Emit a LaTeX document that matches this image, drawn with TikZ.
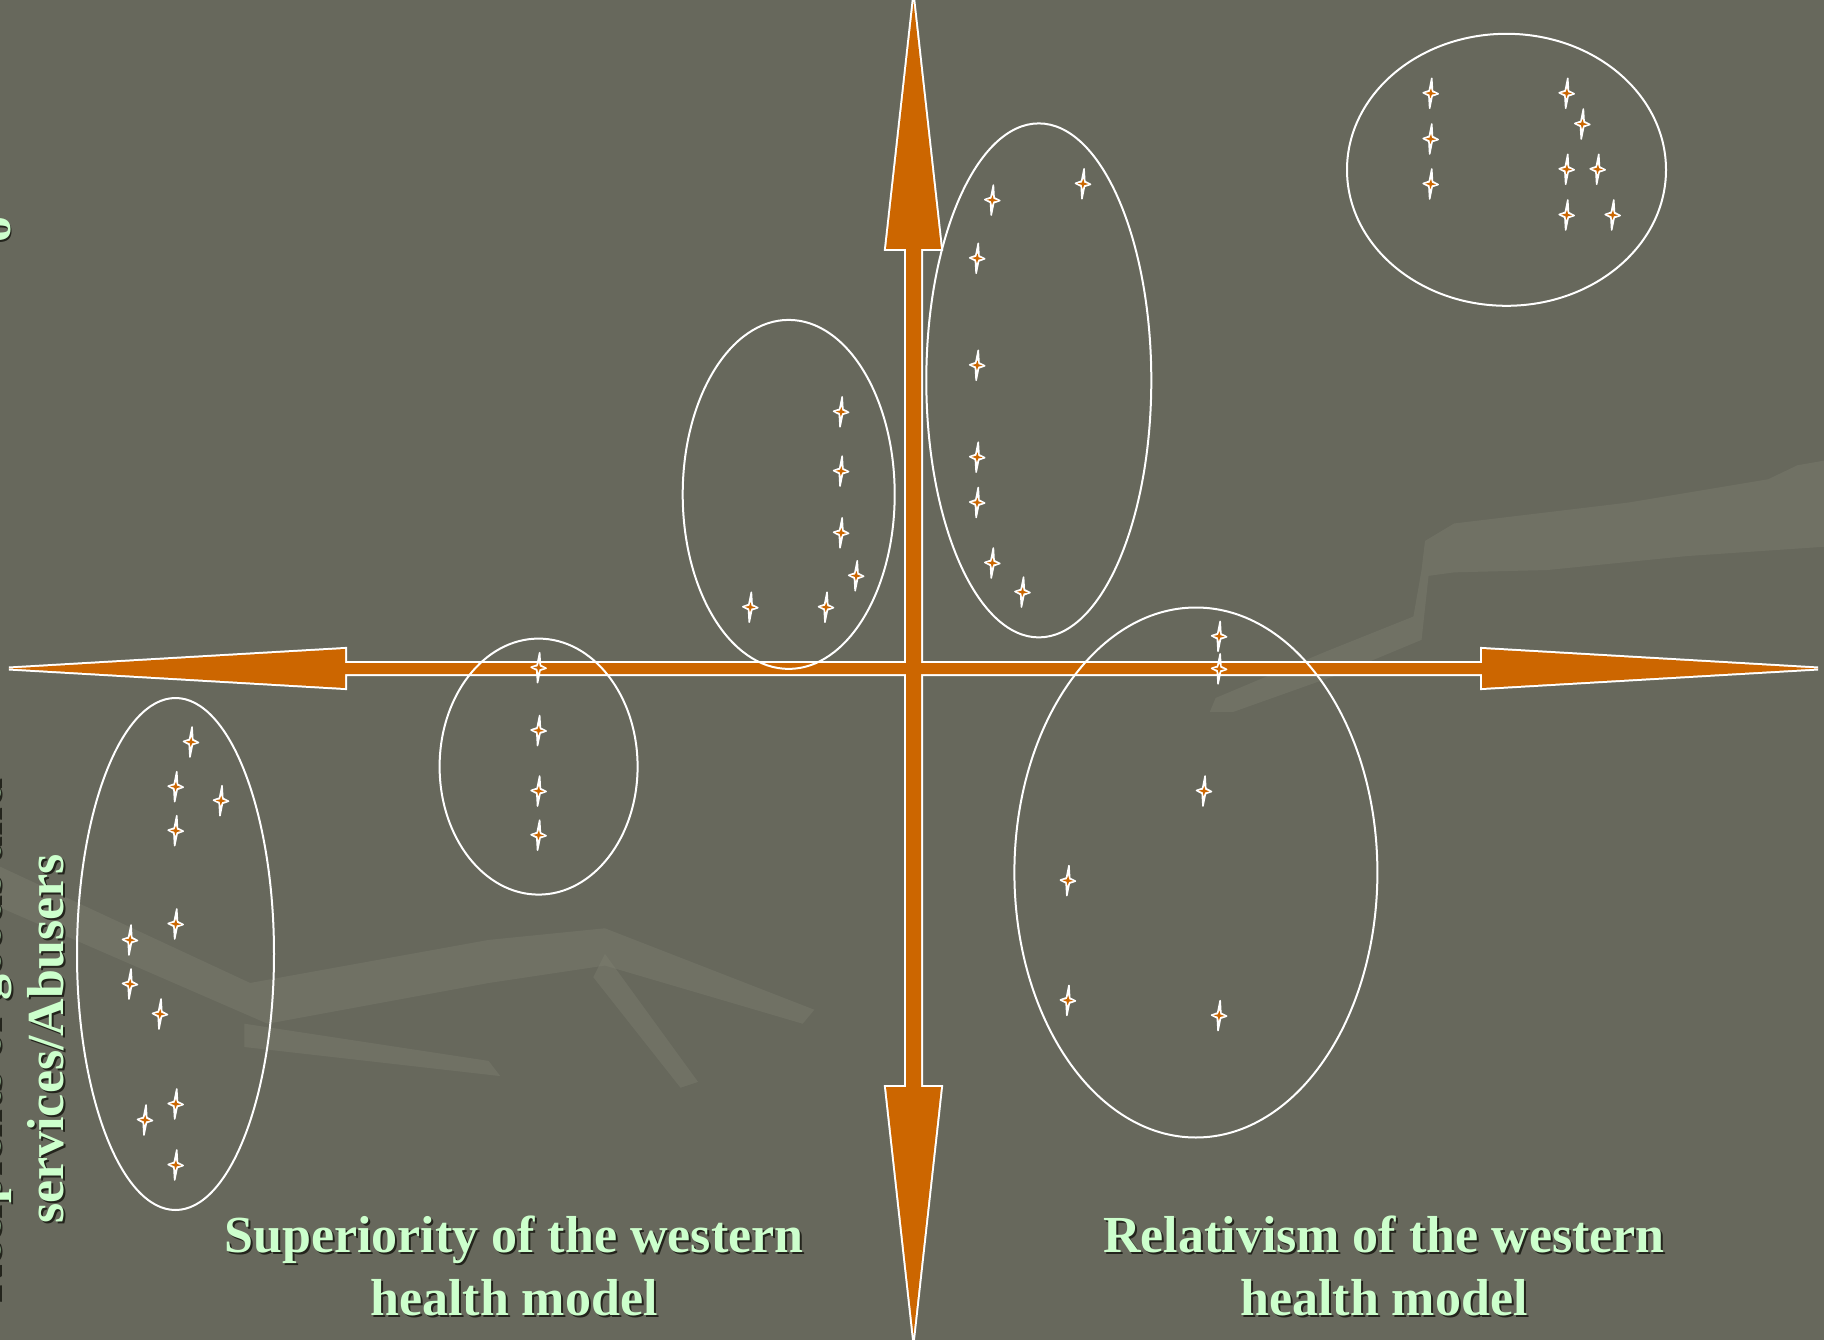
\documentclass[tikz,border=0pt]{standalone}
\usepackage{fontspec}
\setmainfont{Liberation Serif}
\usetikzlibrary{shapes.geometric}
\definecolor{bg}{RGB}{103,104,92}
\definecolor{branch}{RGB}{130,132,117}
\definecolor{arrowfill}{RGB}{204,102,0}
\definecolor{txt}{RGB}{204,255,204}
\definecolor{shadowc}{RGB}{35,36,28}
\tikzset{
  cluster/.style={ellipse, draw=white, line width=2pt, inner sep=0pt},
  sparkle/.pic={
    \filldraw[white, line width=1.6pt, line join=round]
      (0,-15) -- (1.6,-2.5) -- (7.5,0) -- (1.6,2.5) -- (0,15) -- (-1.6,2.5) -- (-7.5,0) -- (-1.6,-2.5) -- cycle;
    \fill[arrowfill] (0,-5) -- (1.2,-1.2) -- (5.5,0) -- (1.2,1.2) -- (0,5) -- (-1.2,1.2) -- (-5.5,0) -- (-1.2,-1.2) -- cycle;
  },
  lbl/.style={text=txt, font=\bfseries\fontsize{52}{63}\selectfont, align=center, inner sep=0pt},
  lblshadow/.style={text=shadowc, font=\bfseries\fontsize{52}{63}\selectfont, align=center, inner sep=0pt},
}
\begin{document}
\begin{tikzpicture}[x=1pt, y=-1pt]
\fill[bg] (0,0) rectangle (1824,1340);
\useasboundingbox (0,0) rectangle (1824,1340);

% faint background branches (shrunk coordinates)
\begin{scope}[x=1.1633pt, y=-1.1633pt, fill=branch, fill opacity=0.35]
  \fill (1225,465) -- (1250,450) -- (1400,432) -- (1520,412) -- (1545,400) -- (1568,396) -- (1568,470) -- (1450,478) -- (1330,490) -- (1250,492) -- (1228,495) -- (1222,550) -- (1150,580) -- (1060,612) -- (1040,612) -- (1045,600) -- (1140,560) -- (1215,530) -- (1222,490) -- cycle;
  \fill (0,745) -- (215,845) -- (420,808) -- (520,798) -- (700,868) -- (690,880) -- (520,830) -- (420,845) -- (230,880) -- (0,780) -- cycle;
  \fill (210,880) -- (420,912) -- (430,925) -- (210,900) -- cycle;
  \fill (520,820) -- (600,930) -- (585,935) -- (510,840) -- cycle;
\end{scope}

% axes
\draw[white, line width=4pt, line join=miter]
  (9,668.5) -- (345,649) -- (345,663) -- (1482,663) -- (1482,649) -- (1818,668.5) -- (1482,688) -- (1482,674) -- (345,674) -- (345,688) -- cycle;
\draw[white, line width=4pt, line join=miter]
  (913.5,2) -- (941,249) -- (921,249) -- (921,1087) -- (941,1087) -- (913.5,1335) -- (886,1087) -- (906,1087) -- (906,249) -- (886,249) -- cycle;
\fill[arrowfill]
  (9,668.5) -- (345,649) -- (345,663) -- (1482,663) -- (1482,649) -- (1818,668.5) -- (1482,688) -- (1482,674) -- (345,674) -- (345,688) -- cycle;
\fill[arrowfill]
  (913.5,2) -- (941,249) -- (921,249) -- (921,1087) -- (941,1087) -- (913.5,1335) -- (886,1087) -- (906,1087) -- (906,249) -- (886,249) -- cycle;

% clusters
\node[cluster, minimum width=319pt, minimum height=272pt] (c1) at (1506.5,169.8) {};
\node[cluster, minimum width=225pt, minimum height=514pt] (c2) at (1038.8,380.4) {};
\node[cluster, minimum width=212pt, minimum height=349pt] (c3) at (788.7,494.4) {};
\node[cluster, minimum width=198pt, minimum height=256pt] (c4) at (538.6,766.6) {};
\node[cluster, minimum width=197pt, minimum height=512pt] (c5) at (175.5,954) {};
\node[cluster, minimum width=363pt, minimum height=530pt] (c6) at (1195.9,872.5) {};

% sparkles
\foreach \p in {
  (1430.7,93.3),(1430.7,139),(1430.7,184),(1566.7,93.3),(1582.3,124),(1566.7,169.3),(1597.7,169.3),(1566.7,215),(1612.7,215),
  (992.3,200.1),(1083,183.8),(977.2,258.3),(977.2,365.3),(977.2,457.2),(977.2,502.5),(992.3,563),(1022.5,592.1),
  (841.1,411.8),(841.1,471.1),(841.1,532.8),(856.2,575.8),(750.3,607.2),(826,607.2),
  (538.6,667.7),(538.6,730.5),(538.6,791),(538.6,835.2),
  (191,742),(175.7,786.7),(221,800.7),(175.7,830.7),(175.7,924),(130,940),(130,984),(160,1014),(175.7,1104),(145,1120),(175.7,1165),
  (1219.1,636.3),(1219.1,668.9),(1204,791),(1067.9,880.6),(1067.9,1000.4),(1219.1,1015.6)}
  \pic[rotate=-4] at \p {sparkle};

% labels (base anchor = baseline of the last line)
\node[lblshadow, anchor=base] (sl) at (516,1317) {Superiority of the western\\health model};
\node[lbl, anchor=base] (l) at (514,1315) {Superiority of the western\\health model};
\node[lblshadow, anchor=base] (sr) at (1386,1317) {Relativism of the western\\health model};
\node[lbl, anchor=base] (r) at (1384,1315) {Relativism of the western\\health model};
\node[lblshadow, anchor=base, rotate=90] (sv) at (65,1041) {Recipients of goods and\\services/Abusers};
\node[lbl, anchor=base, rotate=90] (v) at (63,1039) {Recipients of goods and\\services/Abusers};
\node[lblshadow, anchor=base, rotate=90] (so) at (12,232) {o};
\node[lbl, anchor=base, rotate=90] (o) at (10,230) {o};
\end{tikzpicture}
\end{document}
